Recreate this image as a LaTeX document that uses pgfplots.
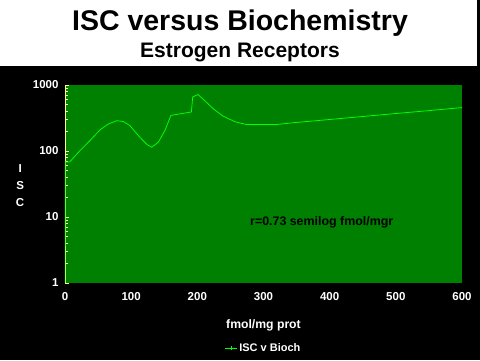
\documentclass[border=0pt]{standalone}
\usepackage{pgfplots}
\pgfplotsset{compat=1.18}
\usepackage{fontspec}
\setmainfont{Liberation Sans}
\definecolor{plotgreen}{RGB}{0,128,0}
\definecolor{linegreen}{RGB}{0,255,0}
\definecolor{axyellow}{RGB}{255,255,128}
\begin{document}
\begin{tikzpicture}
\fill[black] (0pt,0pt) rectangle (480pt,360pt);
\fill[white] (0pt,294pt) rectangle (477pt,360pt);
\useasboundingbox (0pt,0pt) rectangle (480pt,360pt);
\node[anchor=base,font=\fontsize{28.5}{32}\selectfont\bfseries] at (240pt,330pt) {ISC versus Biochemistry};
\node[anchor=base,font=\fontsize{21}{24}\selectfont\bfseries] at (240pt,302.7pt) {Estrogen Receptors};
\begin{axis}[
  at={(65pt,77pt)}, anchor=south west,
  width=397pt, height=198pt, scale only axis,
  xmin=0, xmax=600, ymode=log, ymin=1, ymax=1000,
  axis background/.style={fill=plotgreen},
  axis x line=bottom, axis y line=left,
  x axis line style={draw=none},
  y axis line style={draw=axyellow,-},
  xtick={0,100,...,600},
  ytick={1,10,100,1000}, yticklabels={1,10,100,1000},
  x tick style={draw=none},
  y tick style={draw=axyellow, line width=0.8pt},
  major tick length=4pt,
  tick align=inside,
  minor tick num=0,
  /pgf/number format/assume math mode=true,
  ticklabel style={text=white, font=\fontsize{11.5}{13}\selectfont\bfseries},
  xticklabel style={yshift=-6pt},
  yticklabel style={xshift=-3pt},
  xlabel={fmol/mg prot},
  xlabel style={at={(rel axis cs:0.5,-0.212)}, anchor=center, text=white, font=\fontsize{12.2}{15}\selectfont\bfseries},
  ylabel={I\\[3pt]S\\[3pt]C},
  ylabel style={at={(rel axis cs:-0.113,0.49)}, rotate=-90, anchor=center, align=center, text=white, font=\fontsize{11.5}{14}\selectfont\bfseries},
  legend style={at={(rel axis cs:0.5,-0.328)}, anchor=center, fill=none, draw=none, text=white, font=\fontsize{11}{13}\selectfont\bfseries},
  legend image code/.code={\draw[#1] (0pt,0pt) -- (12pt,0pt); \draw[#1] (6pt,-2pt) -- (6pt,2pt);},
]
\addplot[color=linegreen, line width=0.8pt, mark=none] coordinates {
(0,1) (0.5,68) (7,68) (20,95) (35,135) (53,209) (65,255) (78,288) (88,280) (98,243) (113,162) (124,125) (131,114) (141,136) (151,204) (160,346) (175,367) (191,390) (193,660) (201,716) (212,569) (224,437) (239,337) (257,277) (274,252) (320,252) (348,270) (408,305) (476,352) (551,410) (600,455)
};
\addlegendentry{ISC v Bioch}
\node[font=\fontsize{12.4}{14}\selectfont\bfseries, text=black] at (axis cs:388,8.25) {r=0.73 semilog fmol/mgr};
\end{axis}
\end{tikzpicture}
\end{document}
